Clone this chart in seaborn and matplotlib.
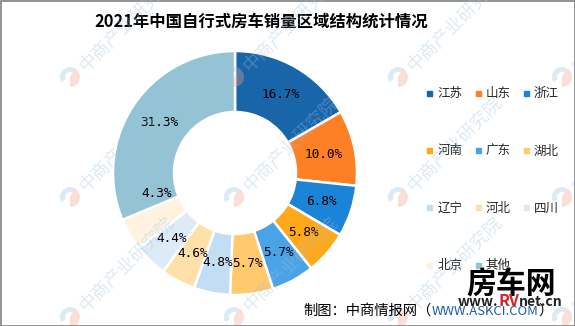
import matplotlib
matplotlib.use("Agg")
import matplotlib.pyplot as plt
from matplotlib.lines import Line2D
from matplotlib.patches import Wedge, Rectangle
import numpy as np
import seaborn as sns

# Data: share of self-propelled RV sales by region, 2021 (%)
regions = ["江苏", "山东", "浙江", "河南", "广东", "湖北",
           "辽宁", "河北", "四川", "北京", "其他"]
shares = [16.7, 10.0, 6.8, 5.8, 5.7, 5.7, 4.8, 4.6, 4.4, 4.3, 31.3]
region_colors = ["#1965aa", "#fd7f26", "#1b84d6", "#ffa81c", "#4aa3e6",
                 "#ffc96c", "#c3ddf5", "#ffe0a8", "#ddebf9", "#fff3e0",
                 "#93c3d5"]
title = "2021年中国自行式房车销量区域结构统计情况"

sns.set_theme(style="white")
plt.rcParams["font.family"] = ["Noto Sans CJK SC", "DejaVu Sans"]

W, H = 575, 326
fig = plt.figure(figsize=(W / 100, H / 100), dpi=100)
fig.patch.set_facecolor("white")

# Donut
ax = fig.add_axes([113 / W, 31 / H, 244 / W, 244 / H])
palette = sns.color_palette(region_colors)
wedges, _ = ax.pie(shares, colors=palette, startangle=90, counterclock=False,
                   radius=1.0,
                   wedgeprops=dict(width=0.5, edgecolor="white", linewidth=1.8))
ax.set_xlim(-1.0, 1.0)
ax.set_ylim(-1.0, 1.0)
ax.set_aspect("equal")
ax.axis("off")

# Percentage labels at the middle of each ring segment
label_nudge = {"北京": (0.0, 0.21)}
for w, name, v in zip(wedges, regions, shares):
    ang = np.deg2rad((w.theta1 + w.theta2) / 2)
    r = 0.745
    x, y = r * np.cos(ang), r * np.sin(ang)
    dx, dy = label_nudge.get(name, (0.0, 0.0))
    ax.text(x + dx, y + dy, f"{v:.1f}%", ha="center", va="center",
            fontsize=9.2, family="DejaVu Sans Mono", color="black")

# Legend laid out row by row in three columns
handles = [Line2D([], [], marker="s", linestyle="none", markersize=3.6,
                  markerfacecolor=c, markeredgecolor=c) for c in palette]
order = list(range(0, 11, 3)) + list(range(1, 11, 3)) + list(range(2, 11, 3))
leg = fig.legend([handles[i] for i in order], [regions[i] for i in order],
                 ncol=3, loc="upper left",
                 bbox_to_anchor=(426 / W, 1 - 87 / H),
                 frameon=False, fontsize=9, handlelength=0.55,
                 handletextpad=0.35, columnspacing=0.95, labelspacing=3.55,
                 borderpad=0, borderaxespad=0)

# Title
fig.text(261 / W, 1 - 22 / H, title, ha="center", va="center",
         fontsize=11.8, fontweight="bold", color="black")

# Overlay in pixel coordinates for footer, logo and watermarks
ov = fig.add_axes([0, 0, 1, 1], zorder=10)
ov.set_xlim(0, W)
ov.set_ylim(H, 0)
ov.axis("off")

# Watermarks
for wx in [70, 234, 398, 562]:
    for wy in [77, 197, 317]:
        ov.add_patch(Wedge((wx, wy), 10, 150, 300, width=5,
                           color="#9cc3e0", alpha=0.35, lw=0))
        ov.add_patch(Wedge((wx, wy), 10, 300, 450, width=10,
                           color="#f3a58a", alpha=0.35, lw=0))
        ov.text(wx + 13, wy - 8, "中商产业研究院", rotation=45,
                rotation_mode="anchor", ha="left", va="center",
                fontsize=13, color="#9cc3e0", alpha=0.35)

# Footer with source line
t1 = ov.text(303, 311, "制图：中商情报网（", ha="left", va="center",
             fontsize=10.3, color="black")
t2 = ov.annotate("WWW.ASKCI.COM", xy=(1, 0), xycoords=t1, ha="left",
                 va="bottom", fontsize=9.4, color="#1a5da6")
ov.annotate("）", xy=(1, 0), xycoords=t2, ha="left", va="bottom",
            fontsize=10.3, color="black")

# Site logo
ov.text(511, 285, "房车网", ha="center", va="center", fontsize=21.5,
        fontweight="bold", color="black")
l1 = ov.text(458, 302, "www.", ha="left", va="center", fontsize=10,
             fontweight="bold", color="#222222")
l2 = ov.annotate("RV", xy=(1, 0), xycoords=l1, ha="left", va="bottom",
                 fontsize=11.5, fontweight="bold", color="#d62424")
ov.annotate("net.cn", xy=(1, 0), xycoords=l2, ha="left", va="bottom",
            fontsize=10, fontweight="bold", color="#222222")

# Frame around the figure
ov.add_patch(Rectangle((0.5, 0.5), W - 1, H - 1, fill=False,
                       edgecolor="#808080", lw=1.2))

fig.savefig("out.png", dpi=100, facecolor="white")
